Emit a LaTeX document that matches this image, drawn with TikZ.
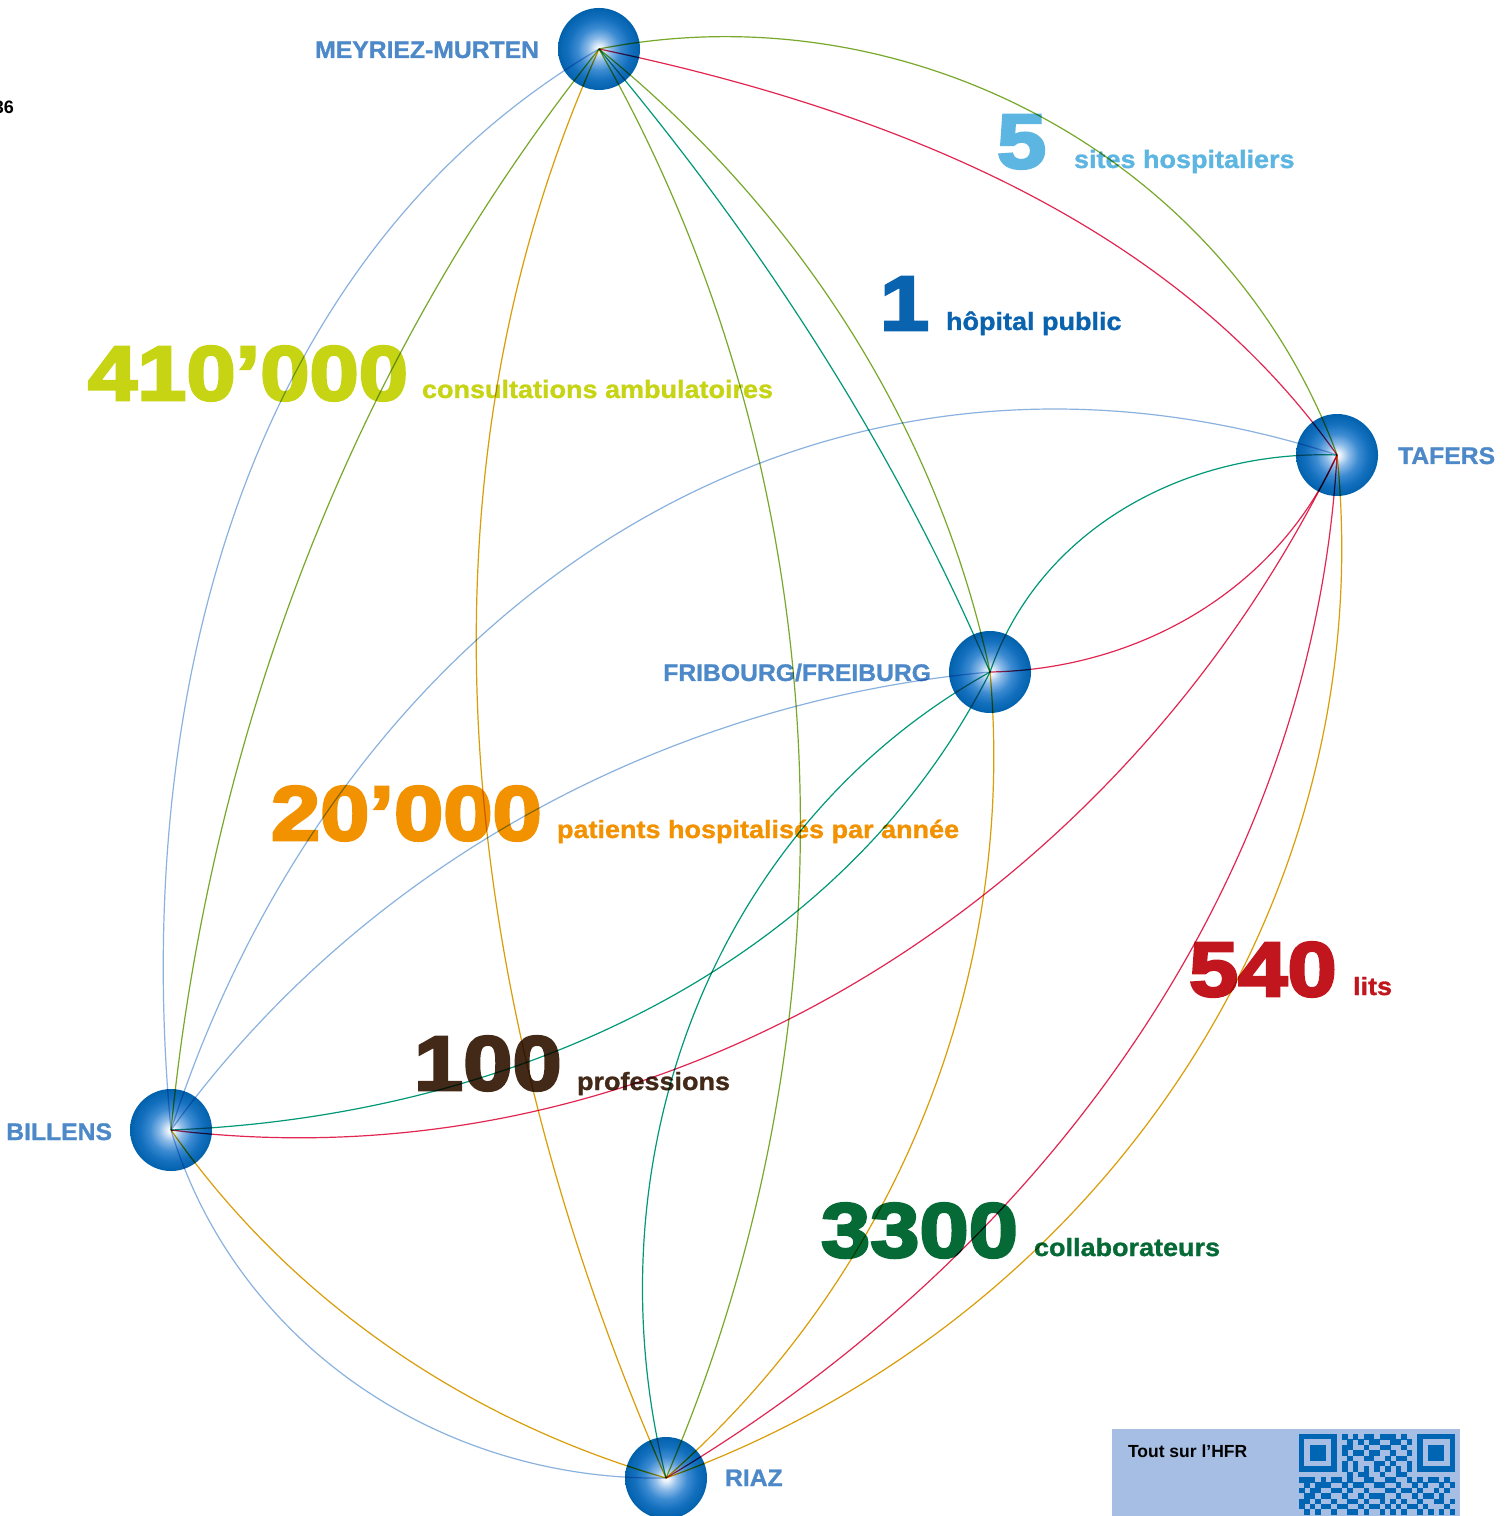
\documentclass[tikz,border=0pt]{standalone}
\usepackage{fontspec}
\setmainfont{Liberation Sans}
\newfontfamily\numfont{Liberation Sans}[BoldFeatures={FakeBold=3.6,FakeStretch=1.15}]
\newfontfamily\lblfont{Liberation Sans}[BoldFeatures={FakeBold=1.1,FakeStretch=1.08}]
\newfontfamily\placefont{Liberation Sans}[BoldFeatures={FakeBold=1.1,FakeStretch=1.03}]
\newfontfamily\plainbold{Liberation Sans}
\definecolor{cM}{HTML}{78A82B}
\definecolor{cT}{HTML}{E22652}
\definecolor{cB}{HTML}{8AB2DF}
\definecolor{cR}{HTML}{D99D07}
\definecolor{cF}{HTML}{009877}
\definecolor{place}{HTML}{4D89C8}
\definecolor{nFive}{HTML}{5DB5E1}
\definecolor{nOne}{HTML}{0A63AE}
\definecolor{nCons}{HTML}{C6D414}
\definecolor{nPat}{HTML}{F39200}
\definecolor{nLits}{HTML}{C2161E}
\definecolor{nProf}{HTML}{432918}
\definecolor{nColl}{HTML}{066A36}
\definecolor{qrbox}{HTML}{A6BEE3}
\definecolor{qrblue}{HTML}{0066B3}
\definecolor{ballA}{HTML}{EAF2FB}
\definecolor{ballB}{HTML}{8DBBE8}
\definecolor{ballC}{HTML}{3C8BD2}
\definecolor{ballD}{HTML}{1470BE}
\definecolor{ballE}{HTML}{0866B3}
\definecolor{ballF}{HTML}{0061AC}
\pgfdeclareradialshading{hfrball}{\pgfpoint{0bp}{0bp}}{color(0bp)=(white); color(2bp)=(ballA); color(7bp)=(ballB); color(13bp)=(ballC); color(19bp)=(ballD); color(23bp)=(ballE); color(25bp)=(ballF); color(50bp)=(ballF)}
\newcommand\qrrow[2]{\foreach \c in {#2} {\fill[qrblue] (\c,#1) rectangle ++(1.02,1.02);}}
\tikzset{
  ball/.style={circle, minimum size=4.1pt, inner sep=0pt, shading=hfrball},
  edge/.style={line width=0.06pt},
  bignum/.style={font=\numfont\bfseries\fontsize{3.85}{3.85}\selectfont, inner sep=0pt, anchor=base west},
  statlbl/.style={font=\lblfont\bfseries\fontsize{1.25}{1.25}\selectfont, inner sep=0pt, anchor=base west},
  placelbl/.style={font=\placefont\bfseries\fontsize{1.2}{1.2}\selectfont, inner sep=0pt, text=place}
}
\begin{document}
\begin{tikzpicture}[x=0.05pt,y=-0.05pt]
\useasboundingbox (0,0) rectangle (1506,1516);
\fill[white] (0,0) rectangle (1506,1516);
% page number
\node[anchor=base east, font=\plainbold\bfseries\fontsize{0.9}{0.9}\selectfont, inner sep=0pt] (pg) at (18,114) {36};
% statistics
\node[bignum, text=nFive] (n5) at (993,168) {5};
\node[statlbl, text=nFive] (l5) at (1070,168) {sites hospitaliers};
\node[bignum, text=nOne] (n1) at (876,330) {1};
\node[statlbl, text=nOne] (l1) at (942,330) {hôpital public};
\node[bignum, text=nCons] (n410) at (84,400) {410’000};
\node[statlbl, text=nCons] (l410) at (418,398) {consultations ambulatoires};
\node[bignum, text=nPat] (n20) at (267,840) {20’000};
\node[statlbl, text=nPat] (l20) at (553,838) {patients hospitalisés par année};
\node[bignum, text=nLits] (n540) at (1185,996) {540};
\node[statlbl, text=nLits] (l540) at (1349,995) {lits};
\node[bignum, text=nProf] (n100) at (410,1090) {100};
\node[statlbl, text=nProf] (l100) at (573,1090) {professions};
\node[bignum, text=nColl] (n3300) at (817,1257) {3300};
\node[statlbl, text=nColl] (l3300) at (1030,1256) {collaborateurs};
% sites
\node[ball] (M) at (599,49) {};
\node[ball] (T) at (1337,455) {};
\node[ball] (F) at (990,672) {};
\node[ball] (B) at (171,1130) {};
\node[ball] (R) at (666,1478) {};
\node[placelbl, anchor=base east] (lM) at (543,58) {MEYRIEZ-MURTEN};
\node[placelbl, anchor=base west] (lT) at (1394,464) {TAFERS};
\node[placelbl, anchor=base east] (lF) at (935,681) {FRIBOURG/FREIBURG};
\node[placelbl, anchor=base east] (lB) at (116,1140) {BILLENS};
\node[placelbl, anchor=base west] (lR) at (721,1486) {RIAZ};
% connections
\begin{scope}[blend mode=multiply]
\draw[edge,cM] (M.center) to[relative,out=40,in=139,looseness=0.96] (T.center);
\draw[edge,cT] (M.center) to[relative,out=17,in=154,looseness=0.88] (T.center);
\draw[edge,cB] (M.center) to[relative,out=-38,in=-153,looseness=0.92] (B.center);
\draw[edge,cM] (M.center) to[relative,out=-17,in=-164,looseness=0.87] (B.center);
\draw[edge,cR] (M.center) to[relative,out=-27,in=-159,looseness=0.89] (R.center);
\draw[edge,cM] (M.center) to[relative,out=27,in=154,looseness=0.89] (R.center);
\draw[edge,cF] (M.center) to[relative,out=8,in=171,looseness=0.86] (F.center);
\draw[edge,cM] (M.center) to[relative,out=19,in=160,looseness=0.88] (F.center);
\draw[edge,cB] (T.center) to[relative,out=-48,in=-138,looseness=1.05] (B.center);
\draw[edge,cT] (T.center) to[relative,out=34,in=143,looseness=0.94] (B.center);
\draw[edge,cF] (T.center) to[relative,out=-34,in=-141,looseness=0.945] (F.center);
\draw[edge,cT] (T.center) to[relative,out=34,in=149,looseness=0.925] (F.center);
\draw[edge,cT] (T.center) to[relative,out=30,in=154,looseness=0.905] (R.center);
\draw[edge,cR] (T.center) to[relative,out=39,in=143,looseness=0.95] (R.center);
\draw[edge,cB] (F.center) to[relative,out=-24,in=-155,looseness=0.89] (B.center);
\draw[edge,cF] (F.center) to[relative,out=34,in=153,looseness=0.915] (B.center);
\draw[edge,cF] (F.center) to[relative,out=-39,in=-144,looseness=0.95] (R.center);
\draw[edge,cR] (F.center) to[relative,out=27,in=153,looseness=0.9] (R.center);
\draw[edge,cB] (B.center) to[relative,out=-38,in=-144,looseness=0.95] (R.center);
\draw[edge,cR] (B.center) to[relative,out=-20,in=-161,looseness=0.88] (R.center);
\end{scope}
% QR box
\begin{scope}
\clip (1112,1429) rectangle (1460,1516);
\fill[qrbox] (1112,1429) rectangle (1460,1516);
\node[anchor=base west, font=\plainbold\bfseries\fontsize{0.875}{0.875}\selectfont, inner sep=0pt] (qrt) at (1124,1457) {Tout sur l’HFR};
\begin{scope}[shift={(1299,1434)}, x=0.269pt, y=-0.269pt]
\foreach \fx in {0,22} {
  \fill[qrblue] (\fx,0) rectangle ++(7,7);
  \fill[qrbox] (\fx+1,1) rectangle ++(5,5);
  \fill[qrblue] (\fx+2,2) rectangle ++(3,3);
}
\qrrow{0}{8,10,12,13,15,16,17,19}
\qrrow{1}{9,11,13,14,17,18,20}
\qrrow{2}{8,9,12,15,16,19}
\qrrow{3}{8,10,11,13,14,17,20}
\qrrow{4}{9,12,13,16,18,19}
\qrrow{5}{8,10,14,15,17,20}
\qrrow{6}{8,10,12,14,16,18,20}
\qrrow{7}{9,11,12,15,18,19}
\qrrow{8}{0,1,2,4,6,7,9,12,13,16,17,20,22,24,25,27}
\qrrow{9}{1,3,4,5,8,10,11,14,15,18,21,23,26,28}
\qrrow{10}{0,2,3,6,7,9,12,16,17,19,20,22,25,27}
\qrrow{11}{1,2,4,5,8,11,13,14,15,18,21,23,24,26}
\qrrow{12}{0,1,3,6,9,10,12,15,17,19,22,25,26,28}
\qrrow{13}{0,2,4,5,7,8,11,13,14,16,18,20,21,23,27}
\qrrow{14}{1,3,6,9,10,12,15,17,19,22,24,26,28}
\end{scope}
\end{scope}
\end{tikzpicture}
\end{document}
